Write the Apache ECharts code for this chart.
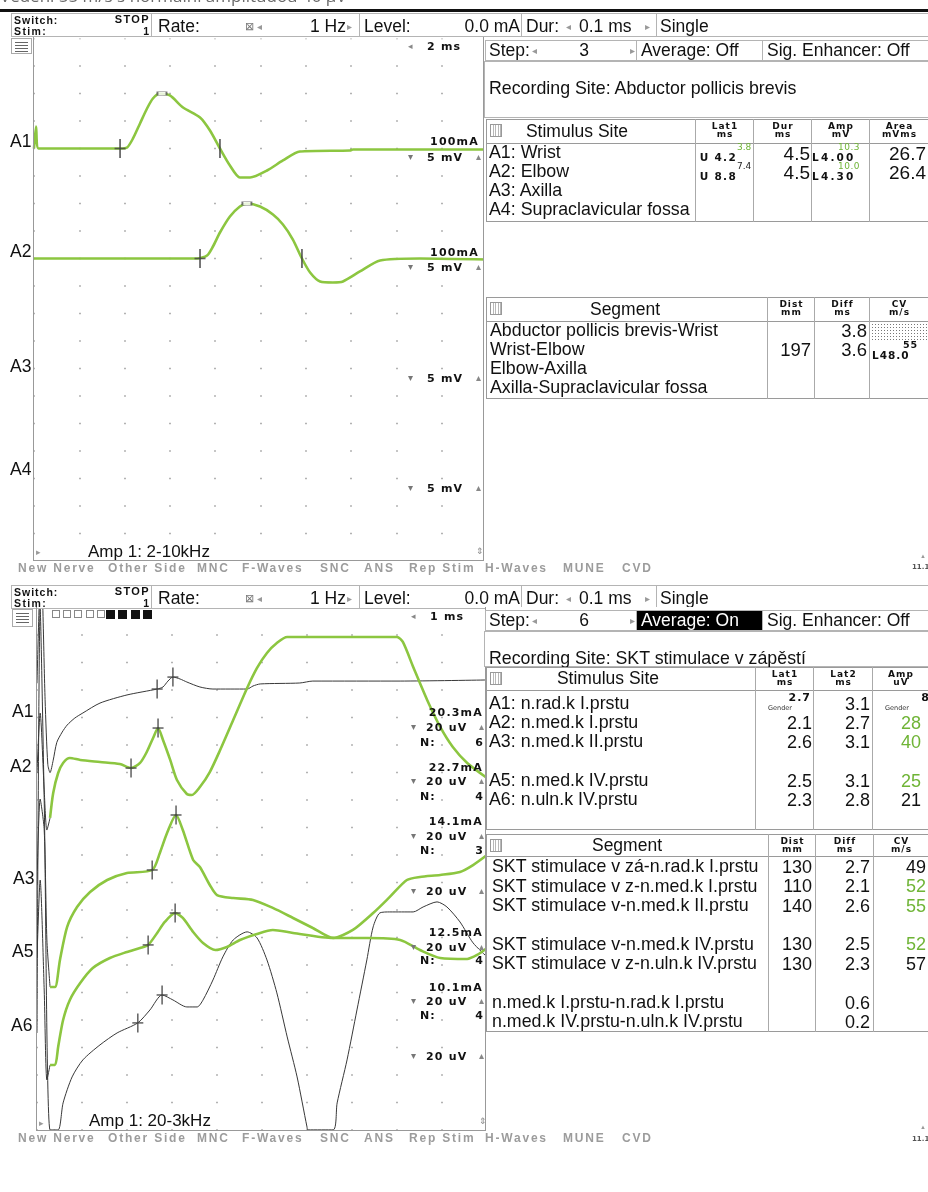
<!DOCTYPE html>
<html><head><meta charset="utf-8">
<script src="https://cdn.jsdelivr.net/npm/echarts@6/dist/echarts.min.js"></script>
<style>
html,body{margin:0;padding:0;background:#fff;width:928px;height:1192px;overflow:hidden;font-family:"Liberation Sans",Arial,sans-serif;}
#chart{position:absolute;left:0;top:0;width:928px;height:1192px;}
#ui{position:absolute;left:0;top:0;width:928px;height:1192px;overflow:hidden;}
</style></head><body>
<div id="chart"></div><div id="ui"></div>
<script>
// ---------------- DATA ----------------
// Top panel (motor conduction, 2 ms/div, 5 mV/div): time in ms, amplitude in mV
const topA1Ms = [0,0.09,0.20,3.80,4.11,4.37,4.68,4.99,5.25,5.56,6.00,6.58,7.33,7.77,8.21,8.65,9.09,9.54,10.29,10.99,11.74,13.95,14.08,20];
const topA1Mv = [0,4.0,0,0,0.18,1.82,4.55,7.27,9.09,10.0,9.64,7.45,5.64,3.27,0,-3.09,-5.27,-5.27,-4.0,-2.18,-0.55,-0.36,-0.18,-0.18];
const topA2Ms = [0,7.20,7.64,7.90,8.21,8.65,9.09,9.40,9.98,10.55,10.99,11.43,11.83,12.19,12.63,13.20,13.64,14.39,15.28,17.04,20];
const topA2Mv = [0,0,0.55,2.18,4.73,7.64,9.45,10.0,9.45,8.0,6.18,3.45,0,-2.55,-4.18,-4.36,-4.18,-2.36,-0.36,0,-0.18];
// cursors [ms, mV]: onset, peak, end
const topA1Cursors = [[3.80,0],[5.65,10.0],[8.21,0]];
const topA2Cursors = [[7.33,0],[9.40,10.0],[11.83,0]];

// Bottom panel (sensory, 1 ms/div, 20 uV/div): time in ms, amplitude in uV
const botA1Ms = [0,0.09,0.18,0.24,0.29,0.36,0.44,0.56,0.67,0.84,1.02,1.40,2.00,2.67,2.80,2.91,3.02,3.18,3.33,3.62,3.91,4.67,4.80,4.96,5.84,6.13,8.07,10];
const botA1Uv = [26,116,14,-33,-39,-30,-17,-9.5,-4.4,0.7,4.4,11.6,17.5,21.8,23.3,27.6,30.5,29.1,26.9,23.3,21.8,21.8,24.0,25.5,26.2,27.6,27.6,28.4];
const botA2Ms = [0.29,0.36,0.47,0.58,0.73,0.96,1.40,1.84,2.09,2.29,2.44,2.58,2.69,2.80,2.96,3.11,3.33,3.44,3.62,3.84,4.07,4.36,4.67,4.89,5.11,5.33,5.56,8.00,8.13,8.36,8.67,8.96,9.24,9.56,10.0];
const botA2Uv = [-32.7,-14.5,0,7.3,10.9,9.5,8.0,6.5,3.6,7.3,15.3,25.5,32.7,24.0,9.5,-5.1,-15.3,-16.0,-10.2,0.7,16.7,38.5,61.8,76.4,87.3,94.5,98.9,98.9,95.3,77.1,53.1,33.5,18.9,7.3,-3.6];
const botA3Ms = [0.29,0.40,0.51,0.67,0.89,1.18,1.56,2.00,2.56,2.73,2.89,3.09,3.24,3.47,3.62,3.84,4.00,4.36,4.80,5.24,5.69,6.13,6.58,7.02,7.47,7.84,8.22,8.51,8.96,9.40,9.69,10.0];
const botA3Uv = [-74.2,-74.2,-54.5,-30.5,-16.0,-5.1,3.6,8.7,10.9,23.3,37.8,50.9,40.0,18.2,13.1,0,-7.3,-9.5,-10.9,-16.7,-24.0,-31.3,-38.5,-32.7,-20.4,-8.7,3.6,5.8,7.3,9.5,14.5,21.8];
const botA5Ms = [0.29,0.40,0.47,0.58,0.73,0.96,1.24,1.62,2.00,2.29,2.47,2.67,2.84,3.07,3.24,3.47,3.69,3.96,4.22,4.51,4.89,5.24,5.69,6.58,7.33,8.07,8.51,8.96,9.56,9.78,10.0];
const botA5Uv = [-77.8,-77.8,-64.7,-45.1,-30.5,-18.2,-7.3,0,4.4,7.3,9.5,18.2,26.2,32.7,29.1,18.9,10.9,5.8,8.0,13.1,17.5,20.4,18.2,14.5,14.5,13.1,5.8,0,-0.7,2.2,7.3];
const botA6Ms = [0,0.07,0.16,0.29,0.47,0.58,0.78,1.02,1.40,1.78,2.24,2.51,2.78,3.02,3.33,3.56,3.69,3.91,4.13,4.36,4.67,4.89,5.11,5.33,5.56,5.78,6.00,6.02,6.58,6.67,6.89,7.11,7.33,7.47,7.62,7.84,8.36,8.58,8.89,9.11,9.40,9.69,10.0];
const botA6Uv = [0,309,169.5,-70.5,-70.5,-50.9,-32.0,-19.6,-8.7,0,7.3,16.7,27.6,24.0,18.9,18.9,24.0,38.5,55.3,67.6,73.5,69.1,53.1,29.1,-2.9,-32.0,-68.4,-70.5,-70.5,-50.9,-19.6,16.7,53.1,77.1,87.3,88.0,88.0,91.6,95.3,91.6,80.7,65.5,55.3];
// stimulus artefacts (gray) preceding the green traces
const artMs = [0,0.07,0.16,0.22,0.29];
const botA2ArtUv = [0,43.6,-12.4,-41.5,-32.7];
const botA3ArtUv = [0,62.5,40,-40,-74.2];
const botA5ArtUv = [0,56.7,-23.3,-88.7,-77.8];
// cursors [ms, uV]: Lat1, Lat2
const botA1Cursors = [[2.67,21.8],[3.02,30.5]];
const botA2Cursors = [[2.09,3.6],[2.69,32.7]];
const botA3Cursors = [[2.56,10.9],[3.09,50.9]];
const botA5Cursors = [[2.47,9.5],[3.07,32.7]];
const botA6Cursors = [[2.24,7.3],[2.78,27.6]];

// Tables
const topSites = ['A1: Wrist','A2: Elbow','A3: Axilla','A4: Supraclavicular fossa'];
const topLat1 = ['U 4.2','U 8.8'];
const topLat1Val = ['3.8','7.4'];
const topDur = ['4.5','4.5'];
const topAmpLim = ['L4.00','L4.30'];
const topAmpVal = ['10.3','10.0'];
const topArea = ['26.7','26.4'];
const topSegs = ['Abductor pollicis brevis-Wrist','Wrist-Elbow','Elbow-Axilla','Axilla-Supraclavicular fossa'];
const topDist = ['','197','',''];
const topDiff = ['3.8','3.6','',''];
const botSites = ['A1: n.rad.k I.prstu','A2: n.med.k I.prstu','A3: n.med.k II.prstu','','A5: n.med.k IV.prstu','A6: n.uln.k IV.prstu'];
const botLat1 = ['2.7','2.1','2.6','','2.5','2.3'];
const botLat2 = ['3.1','2.7','3.1','','3.1','2.8'];
const botAmp = ['8','28','40','','25','21'];
const botAmpGreen = [false,true,true,false,true,false];
const botSegs = ['SKT stimulace v zá-n.rad.k I.prstu','SKT stimulace v z-n.med.k I.prstu','SKT stimulace v-n.med.k II.prstu','','SKT stimulace v-n.med.k IV.prstu','SKT stimulace v z-n.uln.k IV.prstu','','n.med.k I.prstu-n.rad.k I.prstu','n.med.k IV.prstu-n.uln.k IV.prstu'];
const botDist = ['130','110','140','','130','130','','',''];
const botDiff = ['2.7','2.1','2.6','','2.5','2.3','','0.6','0.2'];
const botCv = ['49','52','55','','52','57','','',''];
const botCvGreen = [false,true,true,false,true,false,false,false,false];
const tabs = ['New Nerve','Other Side','MNC','F-Waves','SNC','ANS','Rep Stim','H-Waves','MUNE','CVD'];

// ---------------- UI (HTML text) ----------------
const ui = document.getElementById('ui');
const SM = '"DejaVu Sans",Verdana,sans-serif';
const TG = '#6fb436';
function el(css, txt){ const d=document.createElement('div'); d.style.cssText='position:absolute;'+css; if(txt!==undefined) d.textContent=txt; ui.appendChild(d); return d; }
function T(x,y,txt,o){ o=o||{}; const fs=o.fs||17.5;
  let css=`font-size:${fs}px;line-height:${fs}px;top:${(y-fs/2).toFixed(1)}px;white-space:nowrap;color:${o.c||'#111'};`;
  if(o.al==='r') css+=`right:${928-x}px;text-align:right;`; else if(o.al==='c') css+=`left:${x-200}px;width:400px;text-align:center;`; else css+=`left:${x}px;`;
  if(o.b) css+='font-weight:bold;'; if(o.ls) css+=`letter-spacing:${o.ls}px;`; if(o.ff) css+=`font-family:${o.ff};`;
  if(o.bg) css+=`background:${o.bg};`;
  return el(css,txt); }
function B(x1,y1,x2,y2,o){ o=o||{}; return el(`left:${x1}px;top:${y1}px;width:${x2-x1}px;height:${y2-y1}px;box-sizing:border-box;border:${o.bw===undefined?1:o.bw}px solid ${o.bc||'#b4b4b4'};background:${o.bg||'transparent'};`); }
function HL(x1,x2,y,c,w){ el(`left:${x1}px;top:${y}px;width:${x2-x1}px;height:0;border-top:${w||1}px solid ${c||'#999'};`); }
function VL(x,y1,y2,c,w){ el(`left:${x}px;top:${y1}px;width:0;height:${y2-y1}px;border-left:${w||1}px solid ${c||'#999'};`); }

// caption (cut at top)
T(0,-5,'Vedení 55 m/s s normální amplitudou 40 µV',{fs:17,c:'#6a6a6a',ff:'"Open Sans",sans-serif'});
el('left:0;top:9px;width:928px;height:3px;background:#111;');

function headerBar(y0){
  const y2=y0+24, yc=y0+13.5;
  [[11,152],[151,360],[359,522],[521,657],[656,930]].forEach(b=>B(b[0],y0,b[1],y2,{bg:'#fff'}));
  T(14,y0+7,'Switch:',{fs:10.5,b:1,ls:1});
  T(150,y0+6.5,'STOP',{fs:11,b:1,ls:1.4,al:'r'});
  T(14,y0+18.5,'Stim:',{fs:10.5,b:1,ls:1.4});
  T(149,y0+18.5,'1',{fs:10.5,b:1,al:'r'});
  T(158,yc,'Rate:');
  T(245,yc,'⊠',{fs:11,c:'#777'}); T(257,yc,'◂',{fs:10,c:'#999'});
  T(346,yc,'1 Hz',{al:'r'}); T(347,yc,'▸',{fs:10,c:'#999'});
  T(364,yc,'Level:'); T(520,yc,'0.0 mA',{al:'r'});
  T(526,yc,'Dur:'); T(566,yc,'◂',{fs:10,c:'#999'}); T(579,yc,'0.1 ms'); T(645,yc,'▸',{fs:10,c:'#999'});
  T(660,yc,'Single');
}
function hamburger(x1,y1,x2,y2){
  B(x1,y1,x2,y2,{bc:'#aaa',bg:'#fff'});
  for(let i=0;i<4;i++) HL(x1+4,x2-4,y1+4+i*3,'#666',1);
}
function rightTop(y0, stepVal, avgOn, btns){
  B(485,y0,637,y0+21,{bg:'#fff'});
  B(636,y0,763,y0+21,{bg:avgOn?'#000':'#fff'});
  B(762,y0,930,y0+21,{bg:'#fff'});
  const yc=y0+11;
  T(489,yc,'Step:'); T(532,yc,'◂',{fs:10,c:'#999'}); T(584,yc,stepVal,{al:'c'}); T(630,yc,'▸',{fs:10,c:'#999'});
  T(641,yc,avgOn?'Average: On':'Average: Off',{c:avgOn?'#fff':'#111'});
  T(767,yc,'Sig. Enhancer: Off');
  btns.forEach((l,i)=>{ const x=486+i*18.8, y=y0+24;
    if(l==='–'){ B(x,y,x+16,y+10,{bc:'#999',bg:'#fff'}); T(x+8,y+5,'–',{fs:9,al:'c',c:'#555'}); }
    else { B(x,y,x+16,y+10,{bc:'#999',bg:'#8c8c8c'}); T(x+8,y+5.3,l,{fs:6,al:'c',c:'#eee',ff:SM}); }
  });
}
function gridIcon(x,y){ el(`left:${x}px;top:${y}px;width:12px;height:13px;box-sizing:border-box;border:1px solid #999;background:repeating-linear-gradient(90deg,#fff 0 1.5px,#b8b8b8 1.5px 2.5px);`); }
function tableFrame(x1,y1,x2,y2,hb,cols,title,tcx,heads){
  B(x1,y1,x2,y2,{bc:'#9a9a9a',bw:1.5,bg:'#fff'});
  HL(x1,x2,hb,'#9a9a9a',1.5);
  cols.forEach(c=>VL(c,y1,y2,'#aaa',1.5));
  gridIcon(x1+4,y1+5);
  T(tcx,(y1+hb)/2+0.5,title,{al:'c'});
  heads.forEach((h,i)=>{ const a=cols[i], b=(i+1<cols.length)?cols[i+1]:928; const cx=(a+b)/2+1;
    T(cx,y1+7,h[0],{fs:9,b:1,ff:SM,ls:1,al:'c'}); T(cx,y1+15.5,h[1],{fs:9,b:1,ff:SM,ls:1,al:'c'}); });
}
function tabRow(y){
  const xs=[18,108,197,242,320,364,409,485,563,622];
  tabs.forEach((t,i)=>T(xs[i],y,t,{fs:12,b:1,ls:1.8,c:'#9c9c9c'}));
}
function plotFrame(x1,y1,x2,y2){ el(`left:${x1}px;top:${y1}px;width:${x2-x1}px;height:${y2-y1}px;box-sizing:border-box;border:1px solid #999;border-top:none;`); }

// ----- TOP PANEL -----
headerBar(13);
el('left:483px;top:37px;width:445px;height:525px;background:#fff;');
plotFrame(33,37,484,561);
hamburger(11,38,32,54);
T(408,46.5,'◂',{fs:9,c:'#888'}); T(427,46.5,'2 ms',{fs:11,b:1,ff:SM,ls:1.2});
rightTop(40,'3',false,['A1','A2','A3','A4','–','–','–','–']);
B(484,61,930,118,{bg:'#fff'});
T(489,89,'Recording Site:  Abductor pollicis brevis',{fs:17.8});
tableFrame(486,119,929,222,143,[695,753,811,869],'Stimulus Site',577,[['Lat1','ms'],['Dur','ms'],['Amp','mV'],['Area','mVms']]);
topSites.forEach((s,i)=>T(489,153+i*19,s,{fs:17.8}));
for(let i=0;i<2;i++){
  const y=153+i*19;
  T(737,y+4,topLat1[i],{fs:10.5,b:1,ff:SM,ls:1.3,al:'r'});
  T(737,y-6,topLat1Val[i],{fs:9,ff:SM,c:i===0?TG:'#222'});
  T(810,y,topDur[i],{fs:19,al:'r'});
  T(812,y+4.5,topAmpLim[i],{fs:10.5,b:1,ff:SM,ls:2.2});
  T(838,y-6,topAmpVal[i],{fs:9,ff:SM,c:TG,ls:0.5});
  T(926,y,topArea[i],{fs:19,al:'r'});
}
tableFrame(486,297,929,399,321,[767,814,869],'Segment',625,[['Dist','mm'],['Diff','ms'],['CV','m/s']]);
topSegs.forEach((s,i)=>{ const y=331+i*19; T(490,y,s,{fs:17.8}); if(topDist[i]) T(811,y,topDist[i],{fs:18.5,al:'r'}); if(topDiff[i]) T(867,y,topDiff[i],{fs:18.5,al:'r'}); });
el('left:871px;top:323px;width:57px;height:17px;background-image:radial-gradient(circle,#777 0.7px,transparent 1px);background-size:3px 3px;');
T(872,355,'L48.0',{fs:10.5,b:1,ff:SM,ls:1});
T(903,344.5,'55',{fs:9.5,b:1,ff:SM,ls:1});
// channel labels
[['A1',141.5],['A2',251.5],['A3',367],['A4',470]].forEach(a=>T(10,a[1],a[0],{fs:17.5}));
[[141.5,157],[252,267]].forEach(p=>T(479,p[0],'100mA',{fs:11,b:1,ff:SM,ls:1.2,al:'r'}));
[157,267,378,488].forEach(y=>{ T(408,y,'▾',{fs:10,c:'#777'}); T(427,y,'5 mV',{fs:11,b:1,ff:SM,ls:1.2}); T(476,y,'▴',{fs:10,c:'#888'}); });
T(88,551,'Amp 1: 2-10kHz',{fs:17});
T(36,552,'▸',{fs:9,c:'#999'}); T(476,551,'⇕',{fs:9,c:'#888'});
tabRow(568);
T(912,567.5,'11.1',{fs:7,b:1,ff:SM,c:'#555'}); T(920,556,'▲',{fs:6,c:'#999'});

// ----- BOTTOM PANEL -----
headerBar(585);
el('left:486px;top:607px;width:442px;height:525px;background:#fff;');
plotFrame(36,607,486,1131);
hamburger(12,609,33,627);
for(let i=0;i<5;i++) B(52+i*11.2,610,60+i*11.2,618,{bc:'#888',bg:'#fff'});
for(let i=0;i<4;i++) el(`left:${106+i*12.4}px;top:610px;width:9px;height:9px;background:#111;`);
T(411,616,'◂',{fs:9,c:'#888'}); T(430,616,'1 ms',{fs:11,b:1,ff:SM,ls:1.2});
rightTop(610,'6',true,['A1','A2','A3','A4','A5','A6','A7','–']);
B(484,631,930,667,{bg:'#fff'});
T(489,659,'Recording Site:  SKT stimulace v zápěstí',{fs:17.8});
tableFrame(486,667,929,830,690,[755,813,872],'Stimulus Site',608,[['Lat1','ms'],['Lat2','ms'],['Amp','uV']]);
botSites.forEach((s,i)=>{ const y=703.5+i*19.3; if(!s) return;
  T(489,y,s,{fs:17.8});
  if(i===0){ T(811,y-6,botLat1[i],{fs:11,b:1,ff:SM,ls:1,al:'r'}); T(768,y+5,'Gender',{fs:6.5,ff:SM,c:'#333'});
             T(929,y-6,botAmp[i],{fs:11,b:1,ff:SM,al:'r'}); T(885,y+5,'Gender',{fs:6.5,ff:SM,c:'#333'}); }
  else { T(812,y,botLat1[i],{fs:18,al:'r'}); T(901,y,botAmp[i],{fs:18,c:botAmpGreen[i]?TG:'#111'}); }
  T(870,y,botLat2[i],{fs:18,al:'r'});
});
tableFrame(486,834,929,1032,856,[768,815,873],'Segment',627,[['Dist','mm'],['Diff','ms'],['CV','m/s']]);
botSegs.forEach((s,i)=>{ const y=867+i*19.35; if(!s) return;
  T(492,y,s,{fs:17.8});
  if(botDist[i]) T(812,y,botDist[i],{fs:18,al:'r'});
  if(botDiff[i]) T(870,y,botDiff[i],{fs:18,al:'r'});
  if(botCv[i]) T(926,y,botCv[i],{fs:18,al:'r',c:botCvGreen[i]?TG:'#111'});
});
[['A1',12,711.5],['A2',10,766.5],['A3',13,878.5],['A5',12,951.5],['A6',11,1026]].forEach(a=>T(a[1],a[2],a[0],{fs:17.5}));
const botRight = [['20.3mA',712,727,742,'6'],['22.7mA',767,781,796,'4'],['14.1mA',821,836,850,'3'],['',0,891,0,''],['12.5mA',932,947,960,'4'],['10.1mA',987,1001,1015,'4'],['',0,1056,0,'']];
botRight.forEach(r=>{ if(r[0]) T(483,r[1],r[0],{fs:11,b:1,ff:SM,ls:1.2,al:'r'});
  T(411,r[2],'▾',{fs:10,c:'#777'}); T(426,r[2],'20 uV',{fs:11,b:1,ff:SM,ls:1.2}); T(479,r[2],'▴',{fs:10,c:'#888'});
  if(r[4]){ T(420,r[3],'N:',{fs:11,b:1,ff:SM,ls:1}); T(483,r[3],r[4],{fs:11,b:1,ff:SM,al:'r'}); } });
T(89,1120,'Amp 1: 20-3kHz',{fs:17});
T(39,1123,'▸',{fs:9,c:'#999'}); T(479,1121,'⇕',{fs:9,c:'#888'});
tabRow(1138);
T(912,1139,'11.1',{fs:7,b:1,ff:SM,c:'#555'}); T(920,1127,'▲',{fs:6,c:'#999'});

// ---------------- CHART ----------------
const GREEN='#8cc640', GRAY='#383838', MARK='#444';
function tr(ms, v, off, per){ return ms.map((t,i)=>[t, off - v[i]/per]); }
const TOP_OFF={A1:4,A2:8}, BOT_OFF={A1:4.055,A2:6.018,A3:10.09,A5:12.745,A6:15.47};
const xCommon = {type:'value', show:true, axisLine:{show:false}, axisTick:{show:false}, axisLabel:{show:false},
  splitLine:{show:true, lineStyle:{color:'#a0a0a0', width:1.6, type:[1.6,25.9], dashOffset:0.8}}};
function line(xi, data, color, width, z){ return {type:'line', xAxisIndex:xi, yAxisIndex:xi, data, symbol:'none', smooth:0.25, clip:true, silent:true, z:z||2, lineStyle:{color, width}}; }
function marks(xi, pts, size, style, z){ return {type:'scatter', xAxisIndex:xi, yAxisIndex:xi, data:pts, symbol:'rect', symbolSize:size, silent:true, z:z||6, itemStyle:style}; }
function cursorsTop(c, off){ const p=c.map(q=>[q[0], off-q[1]/5]);
  return [ marks(0,[p[0],p[2]],[1.8,19],{color:MARK}), marks(0,[p[0]],[11,1.6],{color:MARK}),
           marks(0,[p[1]],[9,3.5],{color:'#fff',borderColor:'#555',borderWidth:1.2}) ]; }
function cursorsBot(c, off){ const p=c.map(q=>[q[0], off-q[1]/20]);
  return [ marks(1,p,[1.6,19],{color:MARK}), marks(1,p,[11,1.6],{color:MARK}) ]; }
const series = [
  line(0, tr(topA1Ms, topA1Mv, TOP_OFF.A1, 5), GREEN, 2.6),
  line(0, tr(topA2Ms, topA2Mv, TOP_OFF.A2, 5), GREEN, 2.6),
  ...cursorsTop(topA1Cursors, TOP_OFF.A1), ...cursorsTop(topA2Cursors, TOP_OFF.A2),
  line(1, tr(botA1Ms, botA1Uv, BOT_OFF.A1, 20), GRAY, 1),
  line(1, tr(botA6Ms, botA6Uv, BOT_OFF.A6, 20), GRAY, 1),
  line(1, tr(artMs, botA2ArtUv, BOT_OFF.A2, 20), GRAY, 1),
  line(1, tr(artMs, botA3ArtUv, BOT_OFF.A3, 20), GRAY, 1),
  line(1, tr(artMs, botA5ArtUv, BOT_OFF.A5, 20), GRAY, 1),
  line(1, tr(botA2Ms, botA2Uv, BOT_OFF.A2, 20), GREEN, 2.6, 3),
  line(1, tr(botA3Ms, botA3Uv, BOT_OFF.A3, 20), GREEN, 2.6, 3),
  line(1, tr(botA5Ms, botA5Uv, BOT_OFF.A5, 20), GREEN, 2.6, 3),
  ...cursorsBot(botA1Cursors, BOT_OFF.A1), ...cursorsBot(botA2Cursors, BOT_OFF.A2), ...cursorsBot(botA3Cursors, BOT_OFF.A3),
  ...cursorsBot(botA5Cursors, BOT_OFF.A5), ...cursorsBot(botA6Cursors, BOT_OFF.A6)
];
const chart = echarts.init(document.getElementById('chart'), null, {renderer:'canvas', width:928, height:1192});
chart.setOption({
  animation:false,
  grid:[{left:34, top:38.5, width:453, height:522.5, show:false},{left:37, top:607.5, width:450, height:522.5, show:false}],
  xAxis:[Object.assign({gridIndex:0, min:0, max:20, interval:2}, xCommon), Object.assign({gridIndex:1, min:0, max:10, interval:1}, xCommon)],
  yAxis:[{gridIndex:0, type:'value', min:0, max:19, interval:1, inverse:true, show:false},
         {gridIndex:1, type:'value', min:0, max:19, interval:1, inverse:true, show:false}],
  series
});
</script></body></html>
